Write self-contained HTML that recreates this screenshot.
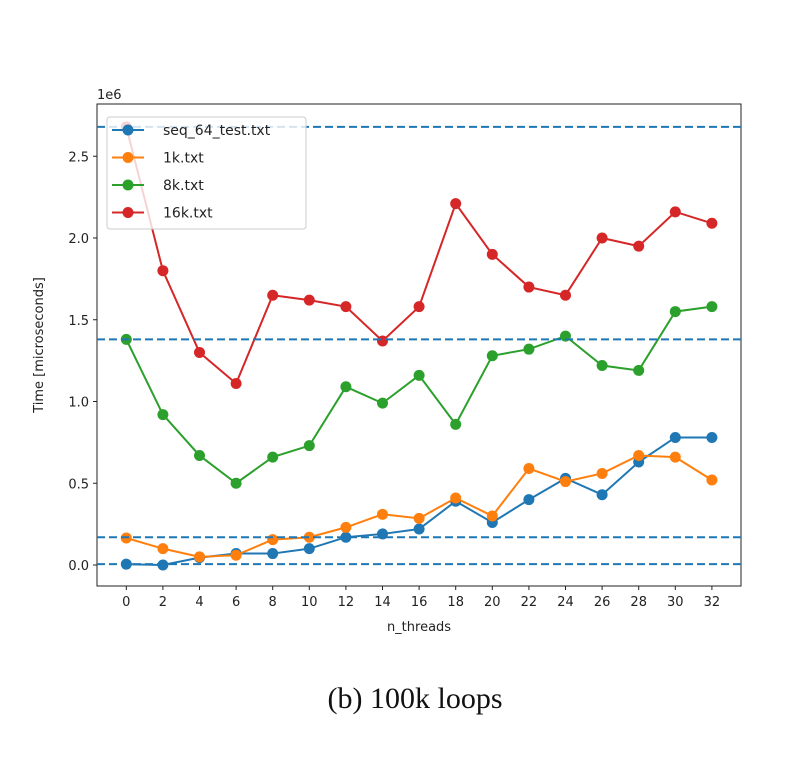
<!DOCTYPE html>
<html><head><meta charset="utf-8"><style>
body{margin:0;background:#fff;}
svg text{font-family:"DejaVu Sans","Liberation Sans",sans-serif;fill:#222;}
</style></head><body>
<svg width="802" height="760" viewBox="0 0 802 760">
<g id="plot"></g>
<text x="415" y="708" text-anchor="middle" style="font-family:'Liberation Serif',serif;font-size:30px;fill:#111">(b) 100k loops</text>
</svg>
<script>
const xCats=[0,2,4,6,8,10,12,14,16,18,20,22,24,26,28,30,32];
const seqVals=[0.005,0.0,0.045,0.07,0.07,0.10,0.17,0.19,0.22,0.39,0.26,0.40,0.53,0.43,0.63,0.78,0.78];
const k1Vals=[0.165,0.10,0.05,0.06,0.155,0.17,0.23,0.31,0.285,0.41,0.30,0.59,0.51,0.56,0.67,0.66,0.52];
const k8Vals=[1.38,0.92,0.67,0.50,0.66,0.73,1.09,0.99,1.16,0.86,1.28,1.32,1.40,1.22,1.19,1.55,1.58];
const k16Vals=[2.68,1.80,1.30,1.11,1.65,1.62,1.58,1.37,1.58,2.21,1.90,1.70,1.65,2.00,1.95,2.16,2.09];
const hLines=[2.68,1.38,0.17,0.005];
const yTicks=[0,0.5,1.0,1.5,2.0,2.5];
const yTickLabels=["0.0","0.5","1.0","1.5","2.0","2.5"];
const seriesNames=["seq_64_test.txt","1k.txt","8k.txt","16k.txt"];
const NS="http://www.w3.org/2000/svg";
const L=97,R=741,T=104,B=586;
const xs=v=>126.3+(v-0)*18.3;
const ys=v=>565-v*163.5;
const g=document.getElementById('plot');
function mk(t,a){const e=document.createElementNS(NS,t);for(const k in a)e.setAttribute(k,a[k]);g.appendChild(e);return e;}
let fr=mk('rect',{x:L,y:T,width:R-L,height:B-T,fill:'none',stroke:'#222','stroke-width':1});


yTicks.forEach((v,i)=>{
 const y=ys(v);
 let t=mk('line',{x1:L-4,x2:L,y1:y,y2:y,stroke:'#222'});
 
 
 let tx=mk('text',{x:L-8,y:y+5,'text-anchor':'end','font-size':13});tx.textContent=yTickLabels[i];
 
 
});
xCats.forEach(c=>{
 const x=xs(c);
 let t=mk('line',{x1:x,x2:x,y1:B,y2:B+4,stroke:'#222'});
 
 
 let tx=mk('text',{x:x,y:B+20,'text-anchor':'middle','font-size':13});tx.textContent=c;
 
 
});
let ex=mk('text',{x:L,y:T-5,'font-size':13});ex.textContent='1e6';


let xt=mk('text',{x:(L+R)/2,y:B+45,'text-anchor':'middle','font-size':13});xt.textContent='n_threads';


let yt=mk('text',{x:0,y:0,'text-anchor':'middle','font-size':13,transform:`translate(43,${(T+B)/2}) rotate(-90)`});yt.textContent='Time [microseconds]';


const colors=['#1f77b4','#ff7f0e','#2ca02c','#d62728'];
const all=[seqVals,k1Vals,k8Vals,k16Vals];
all.forEach((vals,si)=>{
 let p=mk('polyline',{points:vals.map((v,i)=>xs(xCats[i])+','+ys(v)).join(' '),fill:'none',stroke:colors[si],'stroke-width':2});
 
 
 vals.forEach((v,i)=>{
  let c=mk('circle',{cx:xs(xCats[i]),cy:ys(v),r:5.5,fill:colors[si]});
  
  
 });
});
hLines.forEach(v=>{
 let l=mk('line',{x1:L,x2:R,y1:ys(v),y2:ys(v),stroke:'#1f77b4','stroke-width':2,'stroke-dasharray':'8,4'});
 
 
});
let lg=mk('rect',{x:107,y:117,width:199,height:112,rx:3,fill:'#fff','fill-opacity':0.8,stroke:'#ccc'});


seriesNames.forEach((n,i)=>{
 const y=130+i*27.5;
 let l=mk('line',{x1:112,x2:144,y1:y,y2:y,stroke:colors[i],'stroke-width':2});
 
 
 let c=mk('circle',{cx:128,cy:y,r:5.5,fill:colors[i]});
 
 
 let t=mk('text',{x:163,y:y+5,'font-size':14});t.textContent=n;
 
 
});
</script>
</body></html>
